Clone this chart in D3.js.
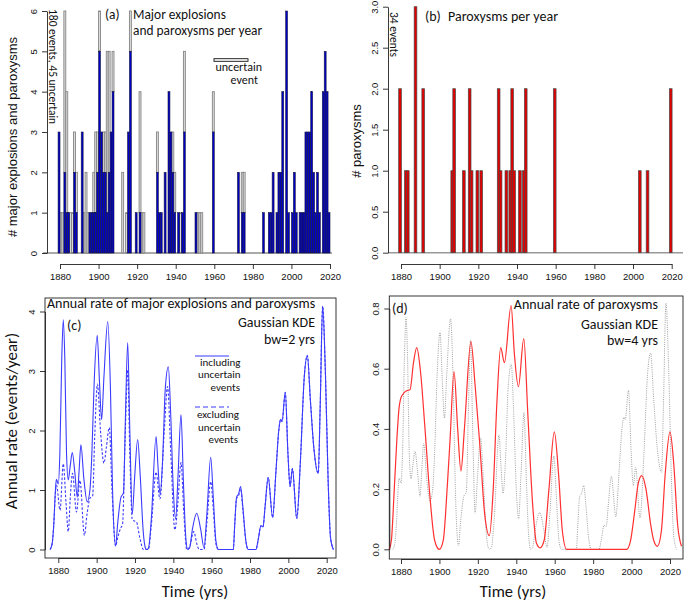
<!DOCTYPE html>
<html><head><meta charset="utf-8">
<script src="https://cdn.jsdelivr.net/npm/d3@7"></script>
<style>body{margin:0;background:#fff}svg{display:block}</style>
</head><body>
<svg id="chart" width="685" height="602"></svg>
<script>
// ---------- DATA ----------
// (a) major explosions + paroxysms per year: certain (blue) and uncertain (open/grey) counts
const yearsA = [1879,1880,1881,1882,1883,1884,1885,1886,1887,1888,1891,1892,1893,1894,1895,1896,1897,1898,1899,1900,1901,1902,1903,1904,1905,1906,1907,1912,1914,1915,1916,1919,1921,1922,1923,1930,1931,1932,1934,1936,1937,1938,1939,1941,1942,1943,1944,1950,1951,1952,1953,1959,1972,1974,1975,1985,1988,1989,1990,1992,1993,1994,1995,1997,1998,2000,2001,2002,2004,2005,2006,2007,2008,2009,2010,2011,2012,2013,2014,2016,2017,2018,2019];
const certainA = [3,0,0,2,1,1,0,0,2,1,3,0,0,0,1,1,1,1,2,5,3,2,2,1,2,3,4,0,0,3,5,1,1,0,0,2,1,1,2,4,3,2,1,1,0,1,3,1,0,0,0,3,2,1,1,1,1,1,2,1,2,2,4,6,1,1,2,1,1,1,1,3,3,3,4,2,1,2,1,4,5,4,1];
const uncertainA = [0,1,1,4,3,0,1,1,1,1,0,1,2,1,0,0,1,2,1,1,0,1,1,4,3,0,1,2,1,0,1,0,3,1,1,1,0,0,0,0,0,1,1,0,1,0,2,0,1,1,1,1,0,1,1,0,0,0,0,0,0,0,0,0,0,0,0,0,0,0,0,0,0,0,0,0,0,0,0,0,0,0,0];
// (b) paroxysms per year
const yearsB = [1879,1882,1883,1887,1891,1906,1907,1912,1915,1916,1919,1921,1930,1931,1934,1936,1937,1938,1941,1943,1944,1959,2003,2007,2019];
const paroxB = [2,1,1,3,2,1,2,1,2,1,1,1,2,1,1,1,2,1,1,1,2,2,1,1,2];
// (c) annual rate, Gaussian KDE bw=2 yrs: [year, events/year]
const rateInclUncertain = [[1875.7,0],[1876.8,0.1],[1877.6,0.4],[1878.5,1.0],[1879.0,1.18],[1880.0,1.1],[1880.8,1.6],[1881.8,3.2],[1882.6,3.86],[1883.4,3.2],[1884.3,1.6],[1885.2,1.17],[1886.2,1.4],[1887.3,1.63],[1888.6,1.3],[1889.9,0.88],[1890.8,1.3],[1891.8,1.76],[1893.3,1.2],[1895.1,0.8],[1896.5,1.0],[1897.5,1.6],[1898.7,2.8],[1900.3,3.6],[1901.5,2.8],[1902.6,2.18],[1903.8,2.9],[1905.8,3.83],[1907.2,2.7],[1908.3,1.0],[1909.9,0.06],[1911,0.45],[1912.7,0.88],[1914,0.95],[1915,2.2],[1916.2,3.48],[1917.3,2.0],[1918.6,0.6],[1919.8,1.2],[1921.4,1.85],[1922.8,1.2],[1924.3,0.3],[1925.5,0.02],[1926.1,0],[1927,0.02],[1928.5,0.5],[1931,1.9],[1932,1.4],[1933.1,0.93],[1934.4,1.5],[1935.8,2.7],[1937.4,3.07],[1938.6,2.3],[1940,1.0],[1941.2,0.51],[1942.4,1.2],[1944,2.27],[1945.3,1.1],[1946.5,0.2],[1947.5,0],[1948.5,0.03],[1950,0.35],[1952.2,0.61],[1954.2,0.35],[1956,0.03],[1957.5,0.6],[1959.5,1.55],[1960.8,0.9],[1962.2,0.15],[1963.5,0],[1971.3,0],[1972,0.4],[1973,0.88],[1974,0.93],[1975.1,1.06],[1976.3,0.7],[1977.8,0.15],[1979.1,0],[1983.1,0],[1984.2,0.15],[1985.7,0.4],[1986.8,0.38],[1987.8,0.7],[1989.5,1.21],[1991.8,0.54],[1993.5,1.3],[1995,2.0],[1996,2.19],[1996.7,2.15],[1998.4,2.64],[1999.8,1.6],[2000.9,1.06],[2002.1,1.36],[2004.4,0.52],[2006.3,1.5],[2008.3,2.9],[2009.9,3.26],[2011.5,2.5],[2013.4,1.67],[2015.6,1.28],[2016.6,2.4],[2017.9,4.09],[2019.3,3.0],[2020.8,1.1],[2022,0.2],[2023.5,0]];
const rateExclUncertain = [[1875.7,0],[1876.8,0.1],[1877.6,0.4],[1878.5,0.95],[1879.1,1.08],[1880.9,0.66],[1882.6,1.44],[1884,0.8],[1885.2,0.3],[1886.3,0.9],[1887.4,1.28],[1889.5,0.63],[1891.3,1.16],[1893.6,0.24],[1895,0.6],[1896.5,0.86],[1897.9,0.9],[1899,1.9],[1900.4,2.78],[1902,2.0],[1903.8,1.45],[1905,1.7],[1906.6,2.05],[1908,1.0],[1909.9,0.06],[1911,0.2],[1912.5,0.36],[1913.5,0.42],[1914.8,1.8],[1916.2,3.02],[1917.3,1.6],[1918.6,0.5],[1920.8,0.46],[1922.5,0.2],[1924.4,0],[1927,0],[1928.5,0.4],[1931,1.3],[1933,0.85],[1935.3,2.0],[1937,2.74],[1938.7,1.6],[1940.8,0.33],[1942.4,0.8],[1944,1.46],[1945.5,0.6],[1947,0],[1948.5,0.04],[1950.6,0.3],[1952.4,0.08],[1953.5,0],[1956,0],[1957.5,0.45],[1959.5,1.14],[1960.8,0.7],[1962.2,0.1],[1963.5,0],[1971.3,0],[1972,0.4],[1973,0.86],[1974,0.9],[1975.1,1.02],[1976.3,0.66],[1977.8,0.15],[1979.1,0],[1983.1,0],[1984.2,0.15],[1985.7,0.4],[1986.8,0.38],[1987.8,0.7],[1989.5,1.21],[1991.8,0.54],[1993.5,1.3],[1995,2.0],[1996,2.19],[1996.7,2.15],[1998.4,2.64],[1999.8,1.6],[2000.9,1.06],[2002.1,1.36],[2004.4,0.52],[2006.3,1.5],[2008.3,2.9],[2009.9,3.26],[2011.5,2.5],[2013.4,1.67],[2015.6,1.28],[2016.6,2.4],[2017.9,4.09],[2019.3,3.0],[2020.8,1.1],[2022,0.2],[2023.5,0]];
// (d) annual rate of paroxysms, KDE bw=4 yrs (red) and all events, rescaled (grey dotted)
const rateParox = [[1873.9,0],[1875,0.03],[1876.5,0.2],[1877.8,0.36],[1879,0.47],[1880.4,0.51],[1883,0.527],[1884.7,0.53],[1886.5,0.62],[1888.2,0.67],[1890,0.6],[1892.5,0.4],[1895,0.18],[1897.5,0.03],[1899.9,0],[1902,0.03],[1904,0.2],[1905.5,0.36],[1907.6,0.59],[1909.5,0.4],[1911.2,0.26],[1913,0.4],[1916.4,0.69],[1918.5,0.55],[1921,0.35],[1923.5,0.12],[1926,0.045],[1928,0.2],[1930,0.5],[1931.9,0.67],[1933.8,0.62],[1937.3,0.81],[1939,0.65],[1941.1,0.54],[1943.9,0.7],[1946,0.45],[1948.5,0.15],[1950.5,0.02],[1952.4,0.005],[1954.5,0.03],[1957,0.2],[1959.8,0.39],[1962,0.25],[1964,0.06],[1966.2,0],[1997.4,0],[1999.5,0.03],[2001.5,0.12],[2003.5,0.22],[2005.3,0.245],[2007.5,0.2],[2010,0.08],[2011.5,0.03],[2013.4,0.01],[2015.5,0.06],[2017.5,0.25],[2020,0.39],[2022,0.28],[2024,0.08],[2026,0.01]];
const rateAllScaled = [[1875.7,0],[1876.8,0.02],[1877.6,0.08],[1878.5,0.2],[1879.0,0.236],[1880.0,0.22],[1880.8,0.32],[1881.8,0.64],[1882.6,0.77],[1883.4,0.64],[1884.3,0.32],[1885.2,0.234],[1886.2,0.28],[1887.3,0.326],[1888.6,0.26],[1889.9,0.176],[1890.8,0.26],[1891.8,0.352],[1893.3,0.24],[1895.1,0.16],[1896.5,0.2],[1897.5,0.32],[1898.7,0.56],[1900.3,0.72],[1901.5,0.56],[1902.6,0.436],[1903.8,0.58],[1905.8,0.766],[1907.2,0.54],[1908.3,0.2],[1909.9,0.012],[1911,0.09],[1912.7,0.176],[1914,0.19],[1915,0.44],[1916.2,0.696],[1917.3,0.4],[1918.6,0.12],[1919.8,0.24],[1921.4,0.37],[1922.8,0.24],[1924.3,0.06],[1925.5,0.004],[1926.1,0],[1927,0.004],[1928.5,0.1],[1931,0.38],[1932,0.28],[1933.1,0.186],[1934.4,0.3],[1935.8,0.54],[1937.4,0.614],[1938.6,0.46],[1940,0.2],[1941.2,0.102],[1942.4,0.24],[1944,0.454],[1945.3,0.22],[1946.5,0.04],[1947.5,0],[1948.5,0.006],[1950,0.07],[1952.2,0.122],[1954.2,0.07],[1956,0.006],[1957.5,0.12],[1959.5,0.31],[1960.8,0.18],[1962.2,0.03],[1963.5,0],[1971.3,0],[1972,0.08],[1973,0.176],[1974,0.186],[1975.1,0.212],[1976.3,0.14],[1977.8,0.03],[1979.1,0],[1983.1,0],[1984.2,0.03],[1985.7,0.08],[1986.8,0.076],[1987.8,0.14],[1989.5,0.242],[1991.8,0.108],[1993.5,0.26],[1995,0.4],[1996,0.438],[1996.7,0.43],[1998.4,0.528],[1999.8,0.32],[2000.9,0.212],[2002.1,0.272],[2004.4,0.104],[2006.3,0.3],[2008.3,0.58],[2009.9,0.652],[2011.5,0.5],[2013.4,0.334],[2015.6,0.256],[2016.6,0.48],[2017.9,0.818],[2019.3,0.6],[2020.8,0.22],[2022,0.04],[2023.5,0]];
// tick labels
const xTickYears = [1880,1900,1920,1940,1960,1980,2000,2020];
const yTicksA = [0,1,2,3,4,5,6];
const yTicksB = [0,0.5,1,1.5,2,2.5,3];
const yTicksC = [0,1,2,3,4];
const yTicksD = [0,0.2,0.4,0.6,0.8];

// ---------- DRAW ----------
const svg = d3.select('#chart');
svg.append('rect').attr('width',685).attr('height',602).attr('fill','#fff');
const tickFont = "'Liberation Sans', Arial, sans-serif";
const annoFont = "Carlito, Calibri, Lato, 'Open Sans', sans-serif";

function styleAxis(g){
  g.selectAll('path.domain').attr('stroke','#222').attr('stroke-width',0.9);
  g.selectAll('.tick line').attr('stroke','#222').attr('stroke-width',0.9);
  g.selectAll('text').attr('font-family',tickFont).attr('font-size',9.5).attr('fill','#111');
}
function bottomAxis(scale, y, tickLen){
  const g = svg.append('g').attr('transform',`translate(0,${y})`)
    .call(d3.axisBottom(scale).tickValues(xTickYears).tickSize(tickLen).tickSizeOuter(0).tickPadding(4).tickFormat(d3.format('d')));
  styleAxis(g);
  return g;
}
function leftAxis(scale, x, ticks, fmt){
  const g = svg.append('g').attr('transform',`translate(${x},0)`)
    .call(d3.axisLeft(scale).tickValues(ticks).tickSize(5).tickSizeOuter(0).tickFormat(fmt));
  styleAxis(g);
  g.selectAll('.tick text').attr('transform','rotate(-90)').attr('x',0).attr('y',-10).attr('dy',0).attr('text-anchor','middle');
  return g;
}
function label(x,y,txt,size,anchor){
  return svg.append('text').attr('x',x).attr('y',y).attr('text-anchor',anchor||'start')
    .attr('font-family',annoFont).attr('font-size',size).attr('fill','#111').text(txt);
}

// ---- Panel (a) ----
const xa = d3.scaleLinear().domain([1880,2020]).range([60,330]);
const ya = d3.scaleLinear().domain([0,6]).range([253,11]);
svg.append('line').attr('x1',43).attr('x2',332).attr('y1',ya(0)).attr('y2',ya(0)).attr('stroke','#555').attr('stroke-width',1);
const barsA = yearsA.map((yr,i)=>({yr, c:certainA[i], u:uncertainA[i]}));
svg.append('g').selectAll('rect').data(barsA.filter(d=>d.u>0)).join('rect')
  .attr('x',d=>xa(d.yr)).attr('width',d=>xa(d.yr+1)-xa(d.yr))
  .attr('y',d=>ya(d.c+d.u)).attr('height',d=>ya(d.c)-ya(d.c+d.u))
  .attr('fill','#dcdcdc').attr('stroke','#858585').attr('stroke-width',0.9);
svg.append('g').selectAll('rect').data(barsA.filter(d=>d.c>0)).join('rect')
  .attr('x',d=>xa(d.yr)).attr('width',d=>xa(d.yr+1)-xa(d.yr))
  .attr('y',d=>ya(d.c)).attr('height',d=>ya(0)-ya(d.c))
  .attr('fill','#0000c8').attr('stroke','#1a1a40').attr('stroke-width',0.6);
bottomAxis(xa, 264, 5);
leftAxis(ya, 47, yTicksA, d3.format('d'));
svg.append('text').attr('transform','translate(17,137) rotate(-90)').attr('text-anchor','middle')
  .attr('font-family',tickFont).attr('font-size',13).attr('fill','#111').text('# major explosions and paroxysms');
svg.append('text').attr('transform','translate(49,9) rotate(90)')
  .attr('font-family',annoFont).attr('font-size',11.5).attr('fill','#111').text('180 events, 45 uncertain');
label(105,19,'(a)',13.4);
label(133,19,'Major explosions',13.4);
label(133,35.3,'and paroxysms per year',13.4);
svg.append('rect').attr('x',214).attr('y',58.7).attr('width',34).attr('height',2.6).attr('fill','#fff').attr('stroke','#111').attr('stroke-width',0.9);
label(262,71,'uncertain',12,'end');
label(258,84,'event',12,'end');

// ---- Panel (b) ----
const xb = d3.scaleLinear().domain([1880,2020]).range([401,671.7]);
const yb = d3.scaleLinear().domain([0,3]).range([252.7,6.7]);
svg.append('line').attr('x1',388).attr('x2',683).attr('y1',yb(0)).attr('y2',yb(0)).attr('stroke','#999').attr('stroke-width',1.5);
svg.append('g').selectAll('rect').data(yearsB.map((yr,i)=>({yr,v:paroxB[i]}))).join('rect')
  .attr('x',d=>xb(d.yr-0.2)).attr('width',d=>xb(d.yr+1.2)-xb(d.yr-0.2))
  .attr('y',d=>yb(d.v)).attr('height',d=>yb(0)-yb(d.v))
  .attr('fill','#e00000').attr('stroke','#4a4a4a').attr('stroke-width',0.7);
bottomAxis(xb, 264, 5);
leftAxis(yb, 388, yTicksB, d3.format('.1f'));
svg.append('text').attr('transform','translate(361,141) rotate(-90)').attr('text-anchor','middle')
  .attr('font-family',tickFont).attr('font-size',13).attr('fill','#111').text('# paroxysms');
svg.append('text').attr('transform','translate(390,12) rotate(90)')
  .attr('font-family',annoFont).attr('font-size',11.5).attr('fill','#111').text('34 events');
label(425,21,'(b)',14);
label(448,21,'Paroxysms per year',14);

// ---- Panel (c) ----
const xc = d3.scaleLinear().domain([1880,2020]).range([58.3,326.7]);
const yc = d3.scaleLinear().domain([0,4]).range([549.5,311.5]);
svg.append('rect').attr('x',45).attr('y',298).attr('width',291).attr('height',260).attr('fill','none').attr('stroke','#222').attr('stroke-width',0.9);
const lineC = d3.line().x(d=>xc(d[0])).y(d=>yc(d[1])).curve(d3.curveMonotoneX);
svg.append('path').datum(rateExclUncertain).attr('d',lineC).attr('fill','none').attr('stroke','#3b3bff').attr('stroke-width',1.1).attr('stroke-dasharray','2.5,1.8');
svg.append('path').datum(rateInclUncertain).attr('d',lineC).attr('fill','none').attr('stroke','#3b3bff').attr('stroke-width',1.1);
bottomAxis(xc, 558, 5);
leftAxis(yc, 45, yTicksC, d3.format('d'));
svg.append('text').attr('transform','translate(17,421) rotate(-90)').attr('text-anchor','middle')
  .attr('font-family',annoFont).attr('font-size',17).attr('fill','#111').text('Annual rate (events/year)');
label(195,597,'Time (yrs)',16.5,'middle');
label(47,308,'Annual rate of major explosions and paroxysms',14);
label(67,330,'(c)',14);
label(315,327,'Gaussian KDE',14,'end');
label(315,344,'bw=2 yrs',14,'end');
svg.append('line').attr('x1',195).attr('x2',229).attr('y1',356).attr('y2',356).attr('stroke','#3b3bff').attr('stroke-width',1.1);
svg.append('line').attr('x1',195).attr('x2',229).attr('y1',407).attr('y2',407).attr('stroke','#3b3bff').attr('stroke-width',1.1).attr('stroke-dasharray','5,3');
label(200,365.5,'including',11);
label(198,378,'uncertain',11);
label(240,390.5,'events',11,'end');
label(197,418,'excluding',11);
label(198,430.5,'uncertain',11);
label(238,443,'events',11,'end');

// ---- Panel (d) ----
const xd = d3.scaleLinear().domain([1880,2020]).range([401,670]);
const yd = d3.scaleLinear().domain([0,0.8]).range([549.3,308.5]);
svg.append('rect').attr('x',389.3).attr('y',296).attr('width',293.7).attr('height',263).attr('fill','none').attr('stroke','#222').attr('stroke-width',0.9);
const lineD = d3.line().x(d=>xd(d[0])).y(d=>yd(d[1])).curve(d3.curveMonotoneX);
svg.append('path').datum(rateAllScaled).attr('d',lineD).attr('fill','none').attr('stroke','#a0a0a0').attr('stroke-width',1).attr('stroke-dasharray','1,1.2');
svg.append('path').datum(rateParox).attr('d',lineD).attr('fill','none').attr('stroke','#ff3030').attr('stroke-width',1.2);
bottomAxis(xd, 559, 5);
leftAxis(yd, 389.3, yTicksD, d3.format('.1f'));
label(513,597,'Time (yrs)',16.5,'middle');
label(392,313,'(d)',14);
label(658,309,'Annual rate of paroxysms',14,'end');
label(658,329,'Gaussian KDE',14,'end');
label(658,345,'bw=4 yrs',14,'end');
</script>
</body></html>
